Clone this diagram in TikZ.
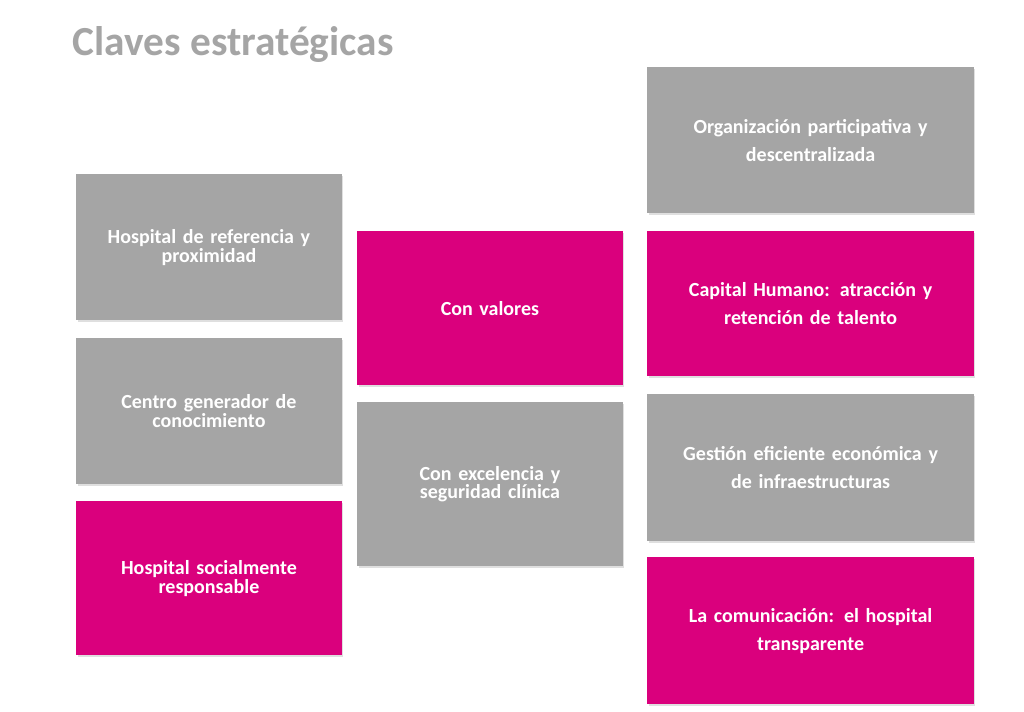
\documentclass[tikz,border=0pt]{standalone}
\usepackage{fontspec}
\setmainfont{Carlito}
\usetikzlibrary{shadows}
\definecolor{clavegris}{HTML}{A5A5A5}
\definecolor{claverosa}{HTML}{DA007D}
\tikzset{
  clave/.style = {anchor = north west, inner sep = 0pt, text = white,
    font = \bfseries\fontsize{15}{17}\selectfont, align = center,
    drop shadow = {opacity = 0.25, shadow xshift = 1pt, shadow yshift = -1pt}},
  gris/.style = {clave, fill = clavegris},
  rosa/.style = {clave, fill = claverosa}
}
\begin{document}
\begin{tikzpicture}[x = 0.75pt, y = -0.75pt]
\useasboundingbox (0, 0) rectangle (1024, 712);
\node [anchor = west, text = clavegris, font = \bfseries\fontsize{31}{35}\selectfont] (titulo) at (68, 45) {Claves estratégicas};
% columna izquierda
\node [gris, minimum width = 199pt, minimum height = 109.5pt, text width = 190pt] (referencia) at (76, 174) {Hospital de referencia y\\[-3pt] proximidad};
\node [gris, minimum width = 199pt, minimum height = 109.5pt, text width = 190pt] (centro) at (76, 338) {Centro generador de\\[-3pt] conocimiento};
\node [rosa, minimum width = 199pt, minimum height = 115.5pt, text width = 190pt] (social) at (76, 501) {Hospital socialmente\\[-3pt] responsable};
% columna central
\node [rosa, minimum width = 199pt, minimum height = 115.5pt, text width = 190pt] (valores) at (357, 231) {Con valores};
\node [gris, minimum width = 199pt, minimum height = 123pt, text width = 190pt] (excelencia) at (357, 402) {Con excelencia y\\[-3pt] seguridad clínica};
% columna derecha
\node [gris, minimum width = 245pt, minimum height = 109.5pt, text width = 235pt] (organizacion) at (647, 67) {Organización participativa y\\[4pt] descentralizada};
\node [rosa, minimum width = 245pt, minimum height = 108.75pt, text width = 235pt] (capital) at (647, 231) {Capital Humano: atracción y\\[4pt] retención de talento};
\node [gris, minimum width = 245pt, minimum height = 110.25pt, text width = 235pt] (gestion) at (647, 394) {Gestión eficiente económica y\\[4pt] de infraestructuras};
\node [rosa, minimum width = 245pt, minimum height = 110.25pt, text width = 235pt] (comunicacion) at (647, 557) {La comunicación: el hospital\\[4pt] transparente};
\end{tikzpicture}
\end{document}
